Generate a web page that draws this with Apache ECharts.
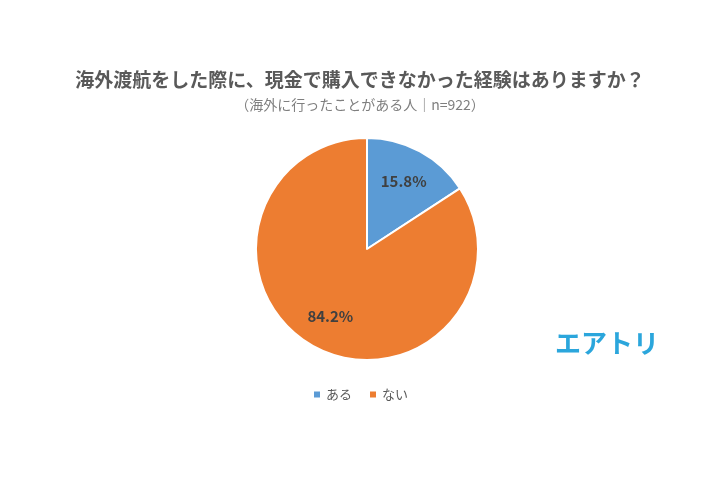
<!DOCTYPE html>
<html><head><meta charset="utf-8">
<script src="https://cdn.jsdelivr.net/npm/echarts@6/dist/echarts.min.js"></script>
<style>html,body{margin:0;padding:0;background:#fff}#c{width:720px;height:480px}</style>
</head><body><div id="c"></div>
<script>
const categories = ['ある', 'ない'];
const values = [15.8, 84.2];
const colors = ['#5b9bd5', '#ed7d31'];
const chart = echarts.init(document.getElementById('c'));
const data = categories.map((n, i) => ({ name: n, value: values[i], itemStyle: { color: colors[i] } }));
chart.setOption({
  animation: false,
  title: {
    text: '海外渡航をした際に、現金で購入できなかった経験はありますか？',
    subtext: '（海外に行ったことがある人｜n=922）',
    left: 'center', top: 65, itemGap: 9,
    textStyle: { fontFamily: 'Noto Sans CJK JP', fontSize: 19, fontWeight: 'bold', color: '#595959' },
    subtextStyle: { fontFamily: 'Noto Sans CJK JP', fontSize: 14, color: '#7f7f7f' }
  },
  legend: {
    data: categories, left: 'center', top: 383, icon: 'rect', itemWidth: 8, itemHeight: 8, itemGap: 16,
    textStyle: { fontFamily: 'Noto Sans CJK JP', fontSize: 13, color: '#595959' }
  },
  graphic: [{
    type: 'text', left: 555, top: 330,
    style: { text: 'エアトリ', fontFamily: 'Noto Sans CJK JP', fontSize: 26, fontWeight: 'bold', fill: '#2ba6dc' }
  }],
  series: [{
    type: 'pie', center: [367, 249], radius: [0, 111], startAngle: 90, clockwise: true,
    itemStyle: { borderColor: '#fff', borderWidth: 2 },
    label: { show: false }, labelLine: { show: false }, data: data, silent: true
  }, {
    type: 'pie', center: [367, 249], radius: [0, 148], startAngle: 90, clockwise: true, silent: true,
    itemStyle: { color: 'rgba(0,0,0,0)' },
    label: { show: true, position: 'inside', formatter: p => p.value.toFixed(1) + '%',
      fontFamily: 'Noto Sans CJK JP', fontSize: 15, fontWeight: 'bold', color: '#404040' },
    labelLine: { show: false }, legendHoverLink: false,
    data: categories.map((n, i) => ({ name: n + ' ', value: values[i] }))
  }]
});
</script></body></html>
